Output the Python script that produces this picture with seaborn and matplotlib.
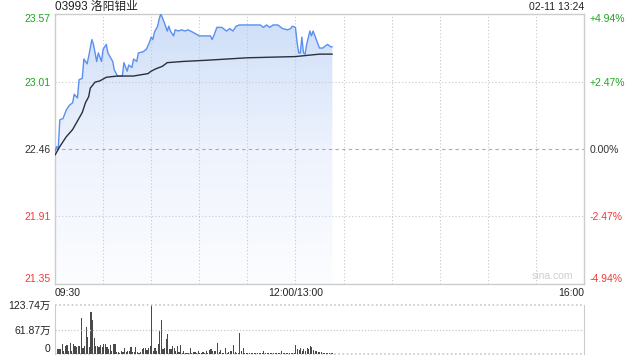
import numpy as np
import pandas as pd
import matplotlib
matplotlib.use("Agg")
import matplotlib.pyplot as plt
import seaborn as sns
from matplotlib.patches import PathPatch
from matplotlib.colors import LinearSegmentedColormap

# ---------------- data ----------------
title = "03993 洛阳钼业"
stamp = "02-11 13:24"
prev_close = 22.46
y_ticks = [21.35, 21.91, 22.46, 23.01, 23.57]
pct_labels = ["-4.94%", "-2.47%", "0.00%", "+2.47%", "+4.94%"]
x_tick_pos = [0, 150, 330]
x_tick_labels = ["09:30", "12:00/13:00", "16:00"]

# minutes since 09:30 (lunch break removed) and price
price_t = [0, 1, 2, 3, 5, 7, 9, 11, 12, 14, 15, 17, 18, 20, 21, 23, 24, 26, 27, 29,
           30, 32, 33, 36, 37, 39, 42, 43, 45, 46, 48, 49, 51, 52, 55, 57, 59, 60, 61, 62,
           64, 65, 66, 67, 69, 70, 71, 72, 74, 75, 77, 79, 81, 83, 86, 90, 97, 98, 99, 101,
           104, 107, 109, 111, 113, 115, 128, 130, 132, 134, 136, 139, 142, 145, 147, 148,
           150, 151, 152, 153, 154, 155, 156, 157, 159, 160, 161, 163, 165, 167, 170, 172, 173]
price_v = [22.44, 22.48, 22.46, 22.70, 22.71, 22.78, 22.82, 22.84, 22.91, 22.88, 23.03, 23.04,
           23.20, 23.16, 23.22, 23.36, 23.32, 23.18, 23.25, 23.18, 23.28, 23.32, 23.25, 23.18,
           23.11, 23.06, 23.06, 23.17, 23.10, 23.15, 23.13, 23.20, 23.18, 23.25, 23.26, 23.28,
           23.34, 23.38, 23.36, 23.42, 23.47, 23.53, 23.57, 23.54, 23.47, 23.43, 23.47, 23.43,
           23.39, 23.44, 23.43, 23.44, 23.43, 23.44, 23.42, 23.39, 23.39, 23.36, 23.39, 23.46,
           23.46, 23.43, 23.45, 23.43, 23.47, 23.48, 23.48, 23.46, 23.48, 23.46, 23.48, 23.48,
           23.45, 23.44, 23.45, 23.47, 23.46, 23.34, 23.25, 23.25, 23.38, 23.25, 23.24, 23.32,
           23.43, 23.39, 23.43, 23.36, 23.29, 23.29, 23.32, 23.30, 23.30]

avg_t = [0, 3, 7, 11, 14, 17, 19, 21, 22, 25, 28, 32, 39, 49, 58, 60, 63, 67, 70, 80,
         95, 120, 150, 165, 173]
avg_v = [22.41, 22.48, 22.56, 22.62, 22.69, 22.76, 22.84, 22.89, 22.96, 23.01, 23.02, 23.05,
         23.06, 23.06, 23.08, 23.10, 23.12, 23.14, 23.17, 23.18, 23.19, 23.21, 23.22, 23.24,
         23.24]

# per-minute volume (万股), minutes 0..173
volume = [78, 12, 12, 12, 25, 8, 21, 23, 8, 29, 8, 25, 21, 18, 21, 21, 92, 16, 21, 68,
          44, 18, 107, 87, 41, 21, 19, 18, 23, 18, 25, 26, 18, 12, 23, 7, 26, 26, 6, 4,
          3, 8, 4, 16, 4, 7, 8, 18, 4, 4, 18, 4, 3, 6, 12, 16, 15, 10, 16, 21,
          124, 8, 15, 7, 25, 58, 87, 12, 16, 37, 51, 12, 12, 19, 15, 8, 21, 4, 23, 2,
          8, 2, 3, 3, 16, 2, 4, 4, 2, 7, 2, 2, 4, 2, 8, 2, 10, 12, 7, 8,
          7, 29, 4, 10, 2, 2, 15, 3, 4, 7, 8, 23, 4, 2, 2, 54, 7, 16, 3, 2,
          3, 2, 2, 3, 2, 2, 3, 2, 3, 2, 7, 2, 3, 2, 2, 3, 2, 2, 3, 2,
          2, 7, 2, 3, 2, 2, 2, 3, 2, 2, 23, 12, 10, 14, 7, 12, 8, 15, 12, 21,
          18, 10, 8, 7, 4, 4, 4, 3, 2, 3, 3, 2, 2, 2]
vol_ticks = [0, 61.87, 123.74]
vol_labels = ["0", "61.87万", "123.74万"]

# ---------------- style ----------------
sns.set_style("white")
plt.rcParams['font.family'] = ['Liberation Sans', 'Noto Sans CJK SC', 'DejaVu Sans']
GREEN = "#1ea51e"
RED = "#f03a3a"
DARK = "#333333"
GRID = "#c8c8c8"
LINE = "#5b8ff0"
FS = 7.5

fig = plt.figure(figsize=(6.4, 3.6), dpi=100)
ax = fig.add_axes([55 / 640, 1 - 284 / 360, 529 / 640, 270 / 360])
axv = fig.add_axes([55 / 640, 1 - 354 / 360, 529 / 640, 49 / 360])

ymin, ymax = y_ticks[0], y_ticks[-1]
xmax = 330

# gradient fill under price line
pt = np.array(price_t, dtype=float)
pv = np.array(price_v, dtype=float)
coll = ax.fill_between(pt, pv, ymin, color="none", linewidth=0)
path = coll.get_paths()[0]
patch = PathPatch(path, facecolor="none", edgecolor="none", transform=ax.transData)
ax.add_patch(patch)
cmap = LinearSegmentedColormap.from_list("g", ["#fcfdff", "#eef3fd", "#cddef8"])
grad = np.linspace(0, 1, 256).reshape(-1, 1)
im = ax.imshow(grad, extent=[0, pt.max(), ymin, ymax], origin="lower", aspect="auto",
               cmap=cmap, zorder=1)
im.set_clip_path(patch)

df_p = pd.DataFrame({"t": price_t, "p": price_v})
df_a = pd.DataFrame({"t": avg_t, "p": avg_v})
sns.lineplot(data=df_p, x="t", y="p", ax=ax, color=LINE, linewidth=1.0, zorder=3)
sns.lineplot(data=df_a, x="t", y="p", ax=ax, color="#2b2f3a", linewidth=1.0, zorder=3)

ax.set_xlim(0, xmax)
ax.set_ylim(ymin, ymax)
ax.set_xlabel("")
ax.set_ylabel("")

# grid
for gx in range(30, 330, 30):
    ax.axvline(gx, color=GRID, linestyle=(0, (1, 2)), linewidth=0.8, zorder=2)
for gy in y_ticks[1:-1]:
    if gy == prev_close:
        ax.axhline(gy, color="#aaaaaa", linestyle=(0, (3, 3)), linewidth=0.8, zorder=2)
    else:
        ax.axhline(gy, color=GRID, linestyle=(0, (1, 2)), linewidth=0.8, zorder=2)

for s in ax.spines.values():
    s.set_color("#cccccc")
    s.set_linewidth(1.0)

ax.set_yticks(y_ticks)
ax.set_yticklabels([f"{v:.2f}" for v in y_ticks], fontsize=FS)
ycols = [RED, RED, DARK, GREEN, GREEN]
for lab, c in zip(ax.get_yticklabels(), ycols):
    lab.set_color(c)
ax.tick_params(axis="y", length=0, pad=3)
yl = ax.get_yticklabels()
yl[0].set_va("bottom")
yl[-1].set_va("top")

axr = ax.twinx()
axr.set_ylim(ymin, ymax)
axr.set_yticks(y_ticks)
axr.set_yticklabels(pct_labels, fontsize=FS)
for lab, c in zip(axr.get_yticklabels(), ycols):
    lab.set_color(c)
axr.tick_params(axis="y", length=0, pad=4)
yr = axr.get_yticklabels()
yr[0].set_va("bottom")
yr[-1].set_va("top")
for s in axr.spines.values():
    s.set_visible(False)

ax.set_xticks(x_tick_pos)
ax.set_xticklabels(x_tick_labels, fontsize=FS, color="#222222")
ax.tick_params(axis="x", length=0, pad=3)
xl = ax.get_xticklabels()
xl[0].set_ha("left")
xl[-1].set_ha("right")

ax.text(0, 1 + 7 / 270, title, transform=ax.transAxes, fontsize=8.5, color="#222222",
        ha="left", va="center")
ax.text(1, 1 + 7 / 270, stamp, transform=ax.transAxes, fontsize=FS, color="#222222",
        ha="right", va="center")
ax.text(0.98, 0.012, "sina.com", transform=ax.transAxes, fontsize=7.5, color="#cfcfcf",
        ha="right", va="bottom", zorder=4)

# volume
df_v = pd.DataFrame({"t": np.arange(len(volume)), "v": volume})
sns.barplot(data=df_v, x="t", y="v", ax=axv, native_scale=True, color="#4a4a4a",
            width=0.7, errorbar=None, saturation=1, linewidth=0)
axv.set_xlim(-0.5, xmax)
axv.set_ylim(0, vol_ticks[-1])
axv.set_xlabel("")
axv.set_ylabel("")
axv.set_xticks([])
axv.set_yticks(vol_ticks)
axv.set_yticklabels(vol_labels, fontsize=FS, color="#222222")
axv.tick_params(axis="y", length=0, pad=3)
ylab = axv.get_yticklabels()
ylab[0].set_va("bottom")
for s in ["top", "bottom"]:
    axv.spines[s].set_visible(False)
for s in ["left", "right"]:
    axv.spines[s].set_color("#cccccc")
axv.axhline(vol_ticks[1], color=GRID, linestyle=(0, (1, 1.5)), linewidth=0.9)
axv.axhline(vol_ticks[2], color=GRID, linestyle=(0, (1, 1.5)), linewidth=1.2, clip_on=False)
axv.axhline(0, color=GRID, linestyle=(0, (1, 1.5)), linewidth=1.2, clip_on=False, zorder=0)

fig.savefig("out.png", dpi=100, facecolor="white")
